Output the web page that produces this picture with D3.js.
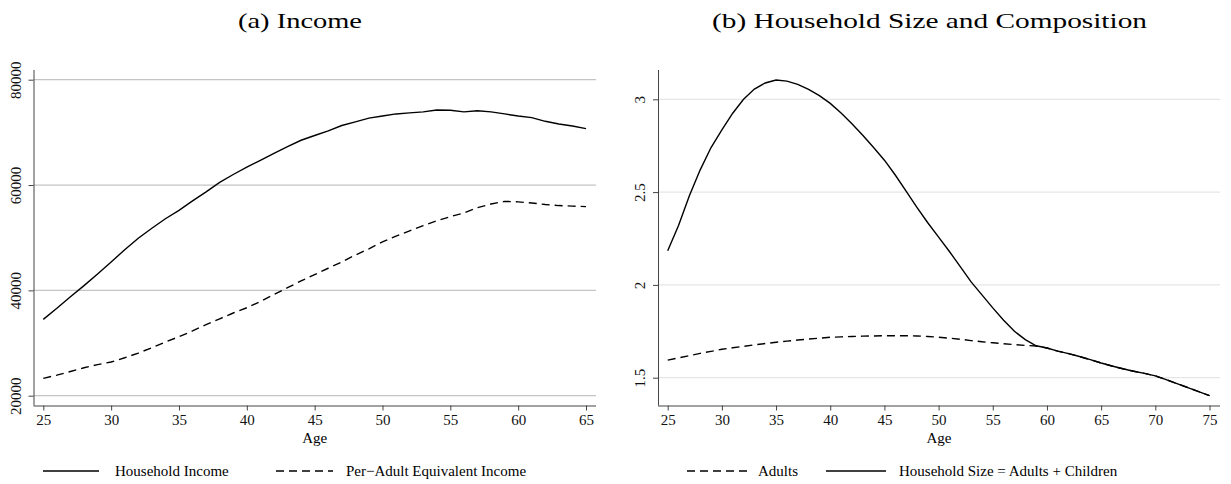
<!DOCTYPE html>
<html>
<head>
<meta charset="utf-8">
<script src="https://cdn.jsdelivr.net/npm/d3@7"></script>
<style>
  body { margin: 0; background: #fff; }
  svg { display: block; font-family: "Liberation Serif", "Times New Roman", serif; }
  .foreground path { fill: none; stroke: #000; stroke-width: 1.4; }
  .axis path, .axis line { stroke: #444; }
  .axis text { font-family: "Liberation Serif", "Times New Roman", serif; font-size: 15px; fill: #111; }
</style>
</head>
<body>
<script>
// ages on the x axis
var agesA = d3.range(25, 66),
    agesB = d3.range(25, 76);

// panel (a): income by age
var householdIncome = [34500, 36600, 38800, 40900, 43100, 45400, 47700, 49900, 51800, 53600,
  55200, 57000, 58700, 60500, 62000, 63400, 64700, 66000, 67300, 68500,
  69400, 70300, 71300, 72000, 72700, 73100, 73500, 73700, 73900, 74250,
  74200, 73900, 74100, 73900, 73500, 73100, 72800, 72100, 71600, 71200, 70700];
var perAdultIncome = [23300, 23900, 24600, 25300, 25900, 26400, 27200, 28100, 29100, 30200,
  31200, 32300, 33500, 34600, 35700, 36700, 37900, 39200, 40500, 41800,
  43000, 44200, 45400, 46700, 47900, 49200, 50300, 51300, 52300, 53200,
  54000, 54700, 55700, 56400, 56900, 56800, 56600, 56300, 56100, 56000, 55900];

// panel (b): household size and adults by age
var householdSize = [2.184, 2.32, 2.48, 2.62, 2.74, 2.835, 2.925, 3.00, 3.055, 3.088,
  3.104, 3.098, 3.08, 3.053, 3.02, 2.978, 2.926, 2.868, 2.806, 2.74,
  2.672, 2.592, 2.505, 2.418, 2.335, 2.257, 2.18, 2.098, 2.016, 1.946,
  1.876, 1.81, 1.75, 1.705, 1.672, 1.66, 1.643, 1.63, 1.614, 1.597,
  1.579, 1.563, 1.548, 1.535, 1.523, 1.51, 1.49, 1.468, 1.447, 1.425, 1.403];
var adults = [1.595, 1.607, 1.619, 1.631, 1.642, 1.653, 1.661, 1.669, 1.677, 1.684,
  1.691, 1.697, 1.703, 1.708, 1.713, 1.718, 1.720, 1.722, 1.724, 1.725,
  1.726, 1.726, 1.726, 1.725, 1.722, 1.718, 1.713, 1.707, 1.700, 1.694,
  1.688, 1.683, 1.678, 1.674, 1.671, 1.66, 1.643, 1.63, 1.614, 1.597,
  1.579, 1.563, 1.548, 1.535, 1.523, 1.51, 1.49, 1.468, 1.447, 1.425, 1.403];

var ticksA = [25, 30, 35, 40, 45, 50, 55, 60, 65],
    ticksB = [25, 30, 35, 40, 45, 50, 55, 60, 65, 70, 75],
    yTicksA = [20000, 40000, 60000, 80000],
    yTicksB = [1.5, 2, 2.5, 3];

var W = 1231, H = 484;

var svg = d3.select("body").append("svg")
    .attr("width", W)
    .attr("height", H);

function drawPanel(o) {
  var x = d3.scaleLinear().domain([o.ages[0], o.ages[o.ages.length - 1]]).range([o.x0, o.x1]);
  var y = d3.scaleLinear().domain(o.yRef).range(o.yPix);

  var g = svg.append("g");

  // gridlines
  g.append("g").selectAll("line")
      .data(o.yTicks)
    .enter().append("line")
      .attr("x1", o.left).attr("x2", o.right)
      .attr("y1", y).attr("y2", y)
      .style("stroke", o.gridColor)
      .style("stroke-width", 1.3);

  // x axis
  var xa = g.append("g")
      .attr("class", "axis")
      .attr("transform", "translate(0," + o.bottom + ")")
      .call(d3.axisBottom(x).tickValues(o.xTicks).tickSize(5).tickSizeOuter(0));
  xa.select(".domain").attr("d", "M" + o.left + ",0.5H" + o.right);
  xa.selectAll("text").attr("y", 19.5).attr("dy", 0);

  // y axis, labels turned on their side
  var ya = g.append("g")
      .attr("class", "axis")
      .attr("transform", "translate(" + o.left + ",0)")
      .call(d3.axisLeft(y).tickValues(o.yTicks).tickSize(5).tickSizeOuter(0).tickFormat(o.fmt));
  ya.select(".domain").attr("d", "M0.5," + o.top + "V" + o.bottom);
  ya.selectAll(".tick text")
      .attr("x", 0).attr("y", 0).attr("dy", 0)
      .attr("text-anchor", "middle")
      .attr("transform", "translate(-13,0) rotate(-90)");

  // axis title
  g.append("text")
      .attr("x", (o.left + o.right) / 2)
      .attr("y", 443)
      .attr("text-anchor", "middle")
      .style("font-size", "15px")
      .text("Age");

  // panel title
  g.append("text")
      .attr("x", o.titleX)
      .attr("y", 28)
      .attr("text-anchor", "middle")
      .attr("textLength", o.titleW)
      .attr("lengthAdjust", "spacingAndGlyphs")
      .style("font-size", "21px")
      .text(o.title);

  var line = d3.line()
      .x(function(d, i) { return x(o.ages[i]); })
      .y(function(d) { return y(d); });

  var fg = g.append("g").attr("class", "foreground");
  o.series.forEach(function(s) {
    fg.append("path")
        .attr("d", line(s.values))
        .style("stroke-dasharray", s.dash ? "8,5" : null);
  });

  // legend
  var lg = g.append("g");
  o.legend.forEach(function(l) {
    lg.append("line")
        .attr("x1", l.k0).attr("x2", l.k1)
        .attr("y1", 471).attr("y2", 471)
        .style("stroke", "#000")
        .style("stroke-width", 1.4)
        .style("stroke-dasharray", l.dash ? "8,5" : null);
    lg.append("text")
        .attr("x", l.tx)
        .attr("y", 476)
        .style("font-size", "15px")
        .text(l.label);
  });
}

drawPanel({
  ages: agesA, x0: 43.3, x1: 586,
  left: 33.5, right: 596, top: 70, bottom: 405.5,
  yRef: [20000, 80000], yPix: [395.7, 79.7],
  xTicks: ticksA, yTicks: yTicksA, fmt: d3.format("d"),
  gridColor: "#c4c4c4",
  title: "(a) Income", titleX: 300, titleW: 124,
  series: [
    { values: perAdultIncome, dash: true },
    { values: householdIncome, dash: false }
  ],
  legend: [
    { k0: 43, k1: 99, tx: 115, label: "Household Income", dash: false },
    { k0: 276, k1: 333, tx: 346, label: "Per\u2212Adult Equivalent Income", dash: true }
  ]
});

drawPanel({
  ages: agesB, x0: 667.7, x1: 1209.5,
  left: 658, right: 1220, top: 70, bottom: 405.5,
  yRef: [1.5, 3], yPix: [377.7, 99.3],
  xTicks: ticksB, yTicks: yTicksB, fmt: function(d) { return String(d); },
  gridColor: "#e6e6e6",
  title: "(b) Household Size and Composition", titleX: 929.5, titleW: 435,
  series: [
    { values: adults, dash: true },
    { values: householdSize, dash: false }
  ],
  legend: [
    { k0: 687, k1: 747, tx: 758, label: "Adults", dash: true },
    { k0: 826, k1: 886, tx: 899, label: "Household Size = Adults + Children", dash: false }
  ]
});
</script>
</body>
</html>
